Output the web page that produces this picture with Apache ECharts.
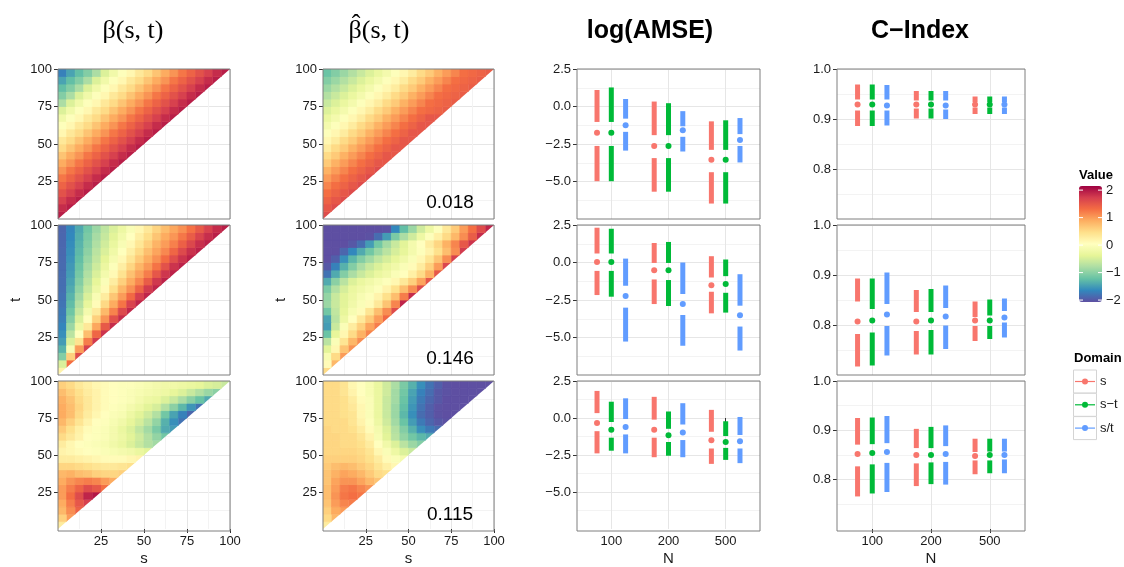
<!DOCTYPE html>
<html><head><meta charset="utf-8">
<script src="https://cdn.jsdelivr.net/npm/echarts@6/dist/echarts.min.js"></script>
<style>html,body{margin:0;padding:0;background:#fff}#c{width:1124px;height:567px}</style>
</head><body><div id="c"></div>
<script>
// ---------------- DATA ----------------
// heat grids: row i = t cell (bottom to top), value j = s cell (left to right), last value is the diagonal cell
const heatStep = 5;
const betaTrue_st = [
[1.95],
[1.85,1.95],
[1.7,1.85,1.95],
[1.55,1.7,1.85,1.95],
[1.4,1.55,1.7,1.85,1.95],
[1.25,1.4,1.55,1.7,1.85,1.95],
[1.05,1.25,1.4,1.55,1.7,1.85,1.95],
[0.9,1.05,1.25,1.4,1.55,1.7,1.85,1.95],
[0.7,0.9,1.05,1.25,1.4,1.55,1.7,1.85,1.95],
[0.5,0.7,0.9,1.05,1.25,1.4,1.55,1.7,1.85,1.95],
[0.35,0.5,0.7,0.9,1.05,1.25,1.4,1.55,1.7,1.85,1.95],
[0.15,0.35,0.5,0.7,0.9,1.05,1.25,1.4,1.55,1.7,1.85,1.95],
[0,0.15,0.35,0.5,0.7,0.9,1.05,1.25,1.4,1.55,1.7,1.85,1.95],
[-0.2,0,0.15,0.35,0.5,0.7,0.9,1.05,1.25,1.4,1.55,1.7,1.85,1.95],
[-0.45,-0.2,0,0.15,0.35,0.5,0.7,0.9,1.05,1.25,1.4,1.55,1.7,1.85,1.95],
[-0.8,-0.45,-0.2,0,0.15,0.35,0.5,0.7,0.9,1.05,1.25,1.4,1.55,1.7,1.85,1.95],
[-1.05,-0.8,-0.45,-0.2,0,0.15,0.35,0.5,0.7,0.9,1.05,1.25,1.4,1.55,1.7,1.85,1.95],
[-1.25,-1.05,-0.8,-0.45,-0.2,0,0.15,0.35,0.5,0.7,0.9,1.05,1.25,1.4,1.55,1.7,1.85,1.95],
[-1.45,-1.25,-1.05,-0.8,-0.45,-0.2,0,0.15,0.35,0.5,0.7,0.9,1.05,1.25,1.4,1.55,1.7,1.85,1.95],
[-1.7,-1.45,-1.25,-1.05,-0.8,-0.45,-0.2,0,0.15,0.35,0.5,0.7,0.9,1.05,1.25,1.4,1.55,1.7,1.85,1.95]
];
const betaHat_st = [
[1.6],
[1.5,1.6],
[1.4,1.5,1.6],
[1.3,1.4,1.5,1.6],
[1.15,1.3,1.4,1.5,1.6],
[1.0,1.15,1.3,1.4,1.5,1.6],
[0.85,1.0,1.15,1.3,1.4,1.5,1.6],
[0.65,0.85,1.0,1.15,1.3,1.4,1.5,1.5],
[0.5,0.65,0.85,1.0,1.15,1.3,1.4,1.5,1.5],
[0.3,0.5,0.65,0.85,1.0,1.15,1.3,1.4,1.5,1.5],
[0.15,0.3,0.5,0.65,0.85,1.0,1.15,1.3,1.4,1.5,1.5],
[0,0.15,0.3,0.5,0.65,0.85,1.0,1.15,1.3,1.4,1.5,1.5],
[-0.15,0,0.15,0.3,0.5,0.65,0.85,1.0,1.15,1.3,1.4,1.5,1.5],
[-0.3,-0.15,0,0.15,0.3,0.5,0.65,0.85,1.0,1.15,1.3,1.4,1.5,1.5],
[-0.45,-0.3,-0.15,0,0.15,0.3,0.5,0.65,0.85,1.0,1.15,1.3,1.35,1.4,1.45],
[-0.6,-0.45,-0.3,-0.15,0,0.15,0.3,0.5,0.65,0.85,1.0,1.15,1.3,1.35,1.4,1.45],
[-0.75,-0.6,-0.45,-0.3,-0.15,0,0.15,0.3,0.5,0.65,0.85,1.0,1.15,1.3,1.35,1.4,1.45],
[-0.9,-0.75,-0.6,-0.45,-0.3,-0.15,0,0.15,0.3,0.5,0.65,0.85,1.0,1.15,1.3,1.35,1.4,1.45],
[-1.05,-0.9,-0.75,-0.6,-0.45,-0.3,-0.15,0,0.15,0.3,0.5,0.65,0.85,1.0,1.15,1.3,1.35,1.4,1.45],
[-1.2,-1.05,-0.9,-0.75,-0.6,-0.45,-0.3,-0.15,0,0.15,0.3,0.5,0.65,0.85,1.0,1.15,1.3,1.35,1.4,1.45]
];
const betaTrue_sdt = [
[0.2],
[-0.47,1.3],
[-1.05,0.6,1.6],
[-1.33,-0.08,1.0,1.7],
[-1.5,-0.47,0.42,1.2,1.75],
[-1.6,-0.7,0.02,0.75,1.37,1.8],
[-1.67,-0.9,-0.26,0.35,0.93,1.48,1.85],
[-1.72,-1.05,-0.47,0.07,0.6,1.05,1.57,1.85],
[-1.75,-1.17,-0.62,-0.15,0.32,0.79,1.16,1.63,1.88],
[-1.79,-1.26,-0.75,-0.33,0.1,0.52,0.9,1.26,1.68,1.9],
[-1.81,-1.33,-0.86,-0.47,-0.08,0.3,0.68,1.0,1.34,1.72,1.9],
[-1.83,-1.4,-0.96,-0.58,-0.24,0.11,0.46,0.81,1.07,1.4,1.75,1.9],
[-1.84,-1.45,-1.05,-0.68,-0.36,-0.04,0.28,0.6,0.89,1.14,1.46,1.77,1.92],
[-1.85,-1.5,-1.13,-0.76,-0.47,-0.17,0.12,0.42,0.72,0.96,1.2,1.5,1.78,1.92],
[-1.86,-1.53,-1.19,-0.84,-0.56,-0.28,-0.01,0.27,0.55,0.82,1.02,1.27,1.55,1.8,1.92],
[-1.87,-1.57,-1.25,-0.92,-0.64,-0.38,-0.12,0.14,0.39,0.65,0.88,1.08,1.32,1.58,1.8,1.93],
[-1.88,-1.6,-1.29,-0.99,-0.7,-0.47,-0.22,0.02,0.26,0.5,0.74,0.94,1.13,1.37,1.62,1.82,1.93],
[-1.89,-1.62,-1.33,-1.05,-0.77,-0.54,-0.31,-0.08,0.14,0.37,0.6,0.83,1.0,1.18,1.42,1.64,1.83,1.93],
[-1.89,-1.65,-1.37,-1.1,-0.83,-0.61,-0.4,-0.18,0.04,0.26,0.47,0.69,0.9,1.04,1.24,1.45,1.67,1.84,1.94],
[-1.9,-1.67,-1.41,-1.15,-0.9,-0.67,-0.47,-0.26,-0.06,0.15,0.35,0.56,0.76,0.93,1.08,1.28,1.48,1.69,1.85,1.94]
];
const betaHat_sdt = [
[0.5],
[0.1,0.8],
[-0.1,0.5,1.0],
[-0.4,0.15,0.7,1.05],
[-0.7,-0.05,0.4,0.8,1.1],
[-1.2,-0.35,0.15,0.5,0.85,1.15],
[-1.5,-0.6,-0.05,0.3,0.6,0.95,1.2],
[-1.45,-0.7,-0.25,0.05,0.35,0.65,1.0,1.35],
[-1.15,-0.65,-0.35,-0.1,0.1,0.4,0.75,1.1,1.6],
[-0.9,-0.6,-0.4,-0.2,-0.05,0.1,0.35,0.7,1.15,1.9],
[-0.95,-0.6,-0.4,-0.25,-0.1,0.0,0.2,0.45,0.75,1.2,1.85],
[-1.1,-0.75,-0.5,-0.3,-0.2,-0.1,0.0,0.2,0.45,0.75,1.1,1.6],
[-1.4,-1.0,-0.7,-0.45,-0.3,-0.2,-0.1,0.0,0.15,0.35,0.6,0.95,1.5],
[-1.8,-1.4,-1.05,-0.8,-0.6,-0.45,-0.3,-0.2,-0.05,0.05,0.25,0.5,0.85,1.5],
[-2.0,-1.7,-1.35,-1.05,-0.8,-0.6,-0.45,-0.3,-0.2,-0.05,0.1,0.3,0.6,1.0,1.65],
[-2.1,-1.95,-1.6,-1.3,-1.05,-0.85,-0.65,-0.5,-0.35,-0.2,-0.05,0.15,0.4,0.7,1.1,1.7],
[-2.2,-2.1,-1.9,-1.65,-1.4,-1.15,-0.9,-0.7,-0.5,-0.35,-0.15,0.0,0.2,0.45,0.75,1.1,1.75],
[-2.3,-2.2,-2.1,-2.0,-1.85,-1.5,-1.15,-0.85,-0.6,-0.4,-0.15,0.05,0.3,0.55,0.85,1.15,1.5,1.8],
[-2.3,-2.3,-2.2,-2.2,-2.1,-2.05,-1.85,-1.5,-1.1,-0.8,-0.55,-0.25,0.0,0.25,0.5,0.8,1.1,1.45,1.85],
[-2.3,-2.3,-2.3,-2.25,-2.2,-2.15,-2.1,-2.05,-1.65,-1.25,-0.9,-0.55,-0.25,0.0,0.35,0.65,1.0,1.3,1.6,1.9]
];
const betaTrue_s = [
[0.3],
[0.6,1.0],
[0.8,1.1,1.4],
[0.9,1.2,1.5,1.7],
[1.0,1.3,1.6,1.9,2.0],
[1.0,1.2,1.4,1.6,1.5,1.3],
[0.9,1.05,1.15,1.2,1.15,1.0,0.9],
[0.8,0.85,0.75,0.7,0.6,0.55,0.55,0.6],
[0.55,0.55,0.5,0.45,0.4,0.35,0.35,0.4,0.45],
[0.3,0.3,0.25,0.2,0.15,0.1,0.1,0.1,0.15,0.2],
[0.2,0.15,0.1,0.05,0,-0.05,-0.1,-0.15,-0.2,-0.3,-0.4],
[0.3,0.15,0.05,0,-0.05,-0.1,-0.2,-0.3,-0.45,-0.6,-0.75,-0.85],
[0.5,0.35,0.2,0.05,0,-0.05,-0.15,-0.25,-0.4,-0.55,-0.75,-0.95,-1.15],
[0.65,0.45,0.25,0.1,0,-0.05,-0.15,-0.3,-0.45,-0.65,-0.85,-1.1,-1.4,-1.5],
[0.8,0.6,0.4,0.2,0.05,0,-0.1,-0.2,-0.35,-0.5,-0.7,-0.95,-1.35,-1.6,-1.8],
[0.9,0.75,0.5,0.3,0.15,0.05,-0.05,-0.1,-0.25,-0.4,-0.55,-0.75,-1.15,-1.45,-1.7,-1.9],
[0.9,0.75,0.55,0.35,0.2,0.1,0,-0.05,-0.15,-0.25,-0.4,-0.5,-0.75,-1.0,-1.3,-1.55,-1.8],
[0.85,0.7,0.5,0.35,0.2,0.1,0.05,0,-0.05,-0.15,-0.25,-0.3,-0.45,-0.6,-0.8,-1.0,-1.2,-1.4],
[0.75,0.6,0.45,0.3,0.2,0.1,0.05,0,-0.05,-0.1,-0.15,-0.2,-0.25,-0.35,-0.45,-0.6,-0.75,-0.9,-1.0],
[0.6,0.5,0.35,0.25,0.15,0.1,0.05,0,0,-0.05,-0.1,-0.15,-0.2,-0.2,-0.25,-0.3,-0.35,-0.45,-0.5,-0.6]
];
const betaHat_s = [
[0.3],
[0.5,0.8],
[0.6,0.9,1.0],
[0.7,1.0,1.15,1.2],
[0.75,1.05,1.25,1.3,1.25],
[0.75,1.0,1.2,1.25,1.15,1.05],
[0.7,0.95,1.05,1.05,0.95,0.8,0.7],
[0.7,0.85,0.95,0.9,0.8,0.65,0.5,0.45],
[0.65,0.75,0.8,0.75,0.65,0.55,0.4,0.25,0.15],
[0.6,0.6,0.6,0.6,0.55,0.45,0.3,0.1,-0.05,-0.15],
[0.55,0.55,0.55,0.55,0.5,0.4,0.15,-0.05,-0.25,-0.45,-0.6],
[0.55,0.55,0.5,0.5,0.45,0.3,0.05,-0.2,-0.45,-0.7,-0.9,-1.05],
[0.55,0.55,0.5,0.5,0.4,0.2,-0.1,-0.4,-0.7,-0.95,-1.15,-1.3,-1.4],
[0.55,0.5,0.5,0.45,0.3,0.1,-0.15,-0.45,-0.75,-1.05,-1.35,-1.6,-1.75,-1.85],
[0.5,0.5,0.5,0.4,0.2,0,-0.25,-0.55,-0.85,-1.2,-1.5,-1.75,-1.9,-2.0,-2.05],
[0.5,0.5,0.45,0.4,0.15,-0.05,-0.3,-0.6,-0.9,-1.3,-1.6,-1.85,-1.95,-2.05,-2.1,-2.1],
[0.5,0.5,0.45,0.35,0.15,-0.05,-0.3,-0.6,-0.9,-1.25,-1.55,-1.8,-1.95,-2.05,-2.1,-2.1,-2.1],
[0.5,0.5,0.45,0.3,0.1,-0.05,-0.3,-0.6,-0.85,-1.2,-1.5,-1.75,-1.9,-2.0,-2.1,-2.1,-2.1,-2.1],
[0.5,0.5,0.4,0.2,0.05,-0.1,-0.3,-0.55,-0.85,-1.15,-1.45,-1.7,-1.85,-2.0,-2.05,-2.1,-2.1,-2.1,-2.1],
[0.5,0.5,0.4,0.15,0.05,-0.1,-0.3,-0.55,-0.8,-1.1,-1.35,-1.6,-1.8,-1.95,-2.05,-2.1,-2.1,-2.1,-2.1,-2.1]
];
const estErrors = ['0.018', '0.146', '0.115'];

const sTicks = [25, 50, 75, 100];
const tTicks = [25, 50, 75, 100];
const Ns = ['100', '200', '500'];
const domains = ['s', 's\u2212t', 's/t'];
const amseTicks = [-5, -2.5, 0, 2.5];
const cindexTicks = [0.8, 0.9, 1.0];
const colorbarTicks = [2, 1, 0, -1, -2];

// Tufte boxplot summaries per N: [low, q1, median, q3, high]
// log(AMSE)
const amse_r1_s   = [[-4.98,-2.63,-1.75,-1.03,1.10],[-5.68,-3.44,-2.63,-1.91,0.33],[-6.47,-4.38,-3.55,-2.89,-0.99]];
const amse_r1_st  = [[-4.98,-2.63,-1.75,-1.03,1.27],[-5.68,-3.44,-2.63,-1.91,0.22],[-6.47,-4.38,-3.55,-2.89,-0.92]];
const amse_r1_sdt = [[-2.94,-1.69,-1.25,-0.81,0.50],[-3.00,-2.02,-1.58,-1.32,-0.31],[-3.73,-2.63,-2.24,-1.84,-0.77]];
const amse_r2_s   = [[-2.17,-0.56,0.04,0.60,2.32],[-2.77,-1.13,-0.51,-0.03,1.30],[-3.39,-1.95,-1.51,-1.00,0.42]];
const amse_r2_st  = [[-2.28,-0.56,0.04,0.60,2.25],[-2.90,-1.17,-0.51,-0.03,1.37],[-3.34,-2.02,-1.44,-0.91,0.20]];
const amse_r2_sdt = [[-5.27,-3.01,-2.24,-1.55,0.26],[-5.55,-3.50,-2.77,-2.10,0.00],[-5.87,-4.27,-3.52,-2.88,-0.78]];
const amse_r3_s   = [[-2.39,-0.89,-0.33,0.33,1.83],[-2.65,-1.33,-0.80,-0.11,1.43],[-3.10,-2.06,-1.51,-0.93,0.55]];
const amse_r3_st  = [[-2.21,-1.33,-0.80,-0.27,1.10],[-2.55,-1.62,-1.17,-0.73,0.44],[-2.83,-2.02,-1.62,-1.22,-0.22]];
const amse_r3_sdt = [[-2.39,-1.11,-0.60,-0.07,1.33],[-2.65,-1.49,-0.98,-0.44,1.00],[-3.05,-2.06,-1.57,-1.15,0.07]];
// C-Index
const cidx_r1_s   = [[0.886,0.917,0.929,0.939,0.969],[0.901,0.921,0.929,0.937,0.956],[0.910,0.923,0.929,0.934,0.945]];
const cidx_r1_st  = [[0.886,0.917,0.929,0.939,0.969],[0.901,0.921,0.929,0.937,0.956],[0.910,0.923,0.929,0.934,0.945]];
const cidx_r1_sdt = [[0.887,0.917,0.927,0.939,0.968],[0.900,0.919,0.927,0.937,0.956],[0.910,0.923,0.929,0.934,0.945]];
const cidx_r2_s   = [[0.717,0.782,0.807,0.847,0.893],[0.741,0.788,0.807,0.826,0.870],[0.768,0.798,0.809,0.816,0.847]];
const cidx_r2_st  = [[0.719,0.785,0.809,0.832,0.893],[0.741,0.790,0.809,0.826,0.872],[0.772,0.798,0.809,0.819,0.851]];
const cidx_r2_sdt = [[0.739,0.798,0.821,0.842,0.905],[0.752,0.799,0.817,0.834,0.879],[0.775,0.805,0.815,0.828,0.853]];
const cidx_r3_s   = [[0.766,0.827,0.852,0.871,0.925],[0.787,0.833,0.850,0.864,0.903],[0.811,0.839,0.848,0.856,0.883]];
const cidx_r3_st  = [[0.772,0.831,0.854,0.872,0.926],[0.791,0.835,0.850,0.864,0.907],[0.813,0.839,0.850,0.857,0.883]];
const cidx_r3_sdt = [[0.775,0.834,0.856,0.874,0.929],[0.790,0.836,0.852,0.868,0.910],[0.813,0.841,0.850,0.857,0.883]];

// ---------------- LAYOUT / STYLE ----------------
const layoutCols = [{left:58,width:172},{left:323,width:171},{left:577,width:183},{left:837,width:188}];
const layoutRows = [{top:69,height:150},{top:225,height:150},{top:381,height:150}];
const domainColors = ['#F8766D', '#00BA38', '#619CFF'];
const dodgeWidth = 0.75;
const spectral = ['#5E4FA2','#3288BD','#66C2A5','#ABDDA4','#E6F598','#FFFFBF','#FEE08B','#FDAE61','#F46D43','#D53E4F','#9E0142'];
const colorMin = -2.07, colorMax = 2.15;
const cbar = {left:1079, top:186, width:23, height:116};
const SANS = '"Liberation Sans", Arial, sans-serif';
const SERIF = '"Liberation Serif", "Times New Roman", serif';
const TXT = '#1a1a1a';

const heatPanels = [[betaTrue_st, betaHat_st],[betaTrue_sdt, betaHat_sdt],[betaTrue_s, betaHat_s]];
const amseRows = [[amse_r1_s, amse_r1_st, amse_r1_sdt],[amse_r2_s, amse_r2_st, amse_r2_sdt],[amse_r3_s, amse_r3_st, amse_r3_sdt]];
const cidxRows = [[cidx_r1_s, cidx_r1_st, cidx_r1_sdt],[cidx_r2_s, cidx_r2_st, cidx_r2_sdt],[cidx_r3_s, cidx_r3_st, cidx_r3_sdt]];

const fmtMinus = v => String(v).replace('-', '\u2212');

const grids = [], xAxes = [], yAxes = [], series = [];
const majorLine = {show:true, lineStyle:{color:'#E6E6E6', width:1}};
const minorLine = {show:true, lineStyle:{color:'#F3F3F3', width:1}};
const tickStyle = {lineStyle:{color:'#333', width:1}, length:4};
const lblStyle = {fontFamily:SANS, fontSize:13, color:TXT};

for (let r = 0; r < 3; r++) {
  for (let c = 0; c < 4; c++) {
    const g = grids.length;
    grids.push({left:layoutCols[c].left, top:layoutRows[r].top, width:layoutCols[c].width, height:layoutRows[r].height, containLabel:false});
    const bottom = r === 2;
    if (c < 2) {
      xAxes.push({type:'value', gridIndex:g, min:0, max:100, interval:25,
        name: bottom ? 's' : '', nameLocation:'middle', nameGap:22, nameTextStyle:{fontFamily:SANS, fontSize:15, color:TXT},
        axisLine:{show:false}, axisTick:Object.assign({show:bottom, customValues:sTicks}, tickStyle),
        axisLabel:Object.assign({show:bottom, customValues:sTicks, margin:6}, lblStyle),
        splitLine:majorLine, minorTick:{show:false, splitNumber:2}, minorSplitLine:minorLine});
      yAxes.push({type:'value', gridIndex:g, min:0, max:100, interval:25,
        name: r === 1 ? 't' : '', nameLocation:'middle', nameGap:35, nameRotate:90, nameTextStyle:{fontFamily:SANS, fontSize:15, color:TXT},
        axisLine:{show:false}, axisTick:Object.assign({show:true, customValues:tTicks}, tickStyle),
        axisLabel:Object.assign({show:true, customValues:tTicks, margin:6}, lblStyle),
        splitLine:majorLine, minorTick:{show:false, splitNumber:2}, minorSplitLine:minorLine});
    } else {
      const isAmse = c === 2;
      xAxes.push({type:'value', gridIndex:g, min:0.4, max:3.6,
        name: bottom ? 'N' : '', nameLocation:'middle', nameGap:22, nameTextStyle:{fontFamily:SANS, fontSize:15, color:TXT},
        axisLine:{show:false}, axisTick:Object.assign({show:bottom, customValues:[1,2,3]}, tickStyle),
        axisLabel:Object.assign({show:bottom, customValues:[1,2,3], margin:6, formatter:v => Ns[Math.round(v)-1]}, lblStyle),
        splitLine:majorLine});
      yAxes.push({type:'value', gridIndex:g,
        min: isAmse ? -7.5 : 0.7, max: isAmse ? 2.5 : 1.0, interval: isAmse ? 2.5 : 0.1,
        axisLine:{show:false}, axisTick:Object.assign({show:true, customValues: isAmse ? amseTicks : cindexTicks}, tickStyle),
        axisLabel:Object.assign({show:true, customValues: isAmse ? amseTicks : cindexTicks, margin:6,
          formatter:v => fmtMinus(Number(v).toFixed(1))}, lblStyle),
        splitLine:majorLine, minorTick:{show:false, splitNumber:2}, minorSplitLine:minorLine});
    }
  }
}

function heatData(rows) {
  const out = [];
  rows.forEach((row, i) => row.forEach((v, j) => {
    out.push([heatStep*j + heatStep/2, heatStep*i + heatStep/2, Math.max(colorMin, Math.min(colorMax, v)), j === i ? 1 : 0]);
  }));
  return out;
}
function renderCell(params, api) {
  const s = api.value(0), t = api.value(1), diag = api.value(3), h = heatStep/2;
  const p00 = api.coord([s-h, t-h]), p01 = api.coord([s-h, t+h]), p11 = api.coord([s+h, t+h]), p10 = api.coord([s+h, t-h]);
  const color = api.visual('color');
  const pts = diag ? [p00, p01, p11] : [p00, p01, p11, p10];
  return {type:'polygon', shape:{points:pts}, style:{fill:color, stroke:diag ? null : color, lineWidth:diag ? 0 : 0.8}};
}
const heatSeriesIdx = [];
for (let r = 0; r < 3; r++) for (let c = 0; c < 2; c++) {
  heatSeriesIdx.push(series.length);
  series.push({type:'custom', xAxisIndex:r*4+c, yAxisIndex:r*4+c, renderItem:renderCell, clip:true,
    encode:{x:0, y:1}, data:heatData(heatPanels[r][c]), silent:true, z:2});
}

function renderTufte(params, api) {
  const x = api.value(0);
  const pLow = api.coord([x, api.value(1)]), pQ1 = api.coord([x, api.value(2)]), pMed = api.coord([x, api.value(3)]);
  const pQ3 = api.coord([x, api.value(4)]), pHigh = api.coord([x, api.value(5)]);
  const w = 5, color = api.visual('color');
  return {type:'group', children:[
    {type:'rect', shape:{x:pLow[0]-w/2, y:pQ1[1], width:w, height:pLow[1]-pQ1[1]}, style:{fill:color}},
    {type:'rect', shape:{x:pHigh[0]-w/2, y:pHigh[1], width:w, height:pQ3[1]-pHigh[1]}, style:{fill:color}},
    {type:'circle', shape:{cx:pMed[0], cy:pMed[1], r:3}, style:{fill:color}}
  ]};
}
function tufteData(arr, d) {
  const off = (d - (domains.length-1)/2) * dodgeWidth / domains.length;
  return arr.map((q, k) => [k + 1 + off].concat(q));
}
for (let r = 0; r < 3; r++) {
  [amseRows[r], cidxRows[r]].forEach((rowSets, m) => {
    const g = r*4 + 2 + m;
    rowSets.forEach((arr, d) => {
      series.push({type:'custom', name:domains[d], xAxisIndex:g, yAxisIndex:g, renderItem:renderTufte, clip:true,
        encode:{x:0, y:[1,2,3,4,5]}, itemStyle:{color:domainColors[d]}, data:tufteData(arr, d), silent:true, z:3});
    });
  });
}

// ---------------- GRAPHICS (titles, borders, legends) ----------------
const graphics = [];
const titles = [
  {text:'\u03B2(s, t)', x:133, font:SERIF, weight:'normal', size:26},
  {text:'\u03B2(s, t)', x:379, font:SERIF, weight:'normal', size:26},
  {text:'log(AMSE)', x:650, font:SANS, weight:'bold', size:25},
  {text:'C\u2212Index', x:920, font:SANS, weight:'bold', size:25}
];
titles.forEach(t => graphics.push({type:'text', x:t.x, y:31, z:50,
  style:{text:t.text, fill:'#000', font:`${t.weight} ${t.size}px ${t.font}`, textAlign:'center', textVerticalAlign:'middle'}}));
graphics.push({type:'text', x:356, y:25, z:50, style:{text:'\u02C6', fill:'#000', font:`26px ${SERIF}`, textAlign:'center', textVerticalAlign:'middle'}});

for (let r = 0; r < 3; r++) for (let c = 0; c < 4; c++) {
  graphics.push({type:'rect', z:40, silent:true,
    shape:{x:layoutCols[c].left, y:layoutRows[r].top, width:layoutCols[c].width, height:layoutRows[r].height},
    style:{fill:null, stroke:'#7F7F7F', lineWidth:1}});
}
estErrors.forEach((e, r) => graphics.push({type:'text', z:45,
  x:layoutCols[1].left + layoutCols[1].width - 44, y:layoutRows[r].top + layoutRows[r].height - 16,
  style:{text:e, fill:'#000', font:`19px ${SANS}`, textAlign:'center', textVerticalAlign:'middle'}}));

// colorbar labels
graphics.push({type:'text', x:cbar.left, y:175, z:50, style:{text:'Value', fill:'#000', font:`bold 13px ${SANS}`, textAlign:'left', textVerticalAlign:'middle'}});
colorbarTicks.forEach(v => {
  const y = cbar.top + (colorMax - v) / (colorMax - colorMin) * cbar.height;
  graphics.push({type:'line', z:50, shape:{x1:cbar.left, y1:y, x2:cbar.left+4, y2:y}, style:{stroke:'#fff', lineWidth:1}});
  graphics.push({type:'line', z:50, shape:{x1:cbar.left+cbar.width-4, y1:y, x2:cbar.left+cbar.width, y2:y}, style:{stroke:'#fff', lineWidth:1}});
  graphics.push({type:'text', z:50, x:cbar.left+cbar.width+4, y:y, style:{text:fmtMinus(v), fill:TXT, font:`13px ${SANS}`, textAlign:'left', textVerticalAlign:'middle'}});
});
// Domain legend
graphics.push({type:'text', x:1074, y:358, z:50, style:{text:'Domain', fill:'#000', font:`bold 13px ${SANS}`, textAlign:'left', textVerticalAlign:'middle'}});
domains.forEach((d, k) => {
  const y0 = 370 + k*23.3, cy = y0 + 11.5;
  graphics.push({type:'rect', z:50, shape:{x:1073.5, y:y0, width:23, height:23}, style:{fill:'#fff', stroke:'#D4D4D4', lineWidth:1}});
  graphics.push({type:'line', z:51, shape:{x1:1075, y1:cy, x2:1095, y2:cy}, style:{stroke:domainColors[k], lineWidth:1.2}});
  graphics.push({type:'circle', z:52, shape:{cx:1085, cy:cy, r:3}, style:{fill:domainColors[k]}});
  graphics.push({type:'text', z:50, x:1100, y:cy, style:{text:d, fill:TXT, font:`13px ${SANS}`, textAlign:'left', textVerticalAlign:'middle'}});
});

const chart = echarts.init(document.getElementById('c'), null, {renderer:'canvas'});
chart.setOption({
  animation:false,
  backgroundColor:'#fff',
  grid:grids, xAxis:xAxes, yAxis:yAxes, series:series,
  visualMap:{type:'continuous', min:colorMin, max:colorMax, dimension:2, seriesIndex:heatSeriesIdx,
    inRange:{color:spectral}, calculable:false, show:true, orient:'vertical',
    left:cbar.left, top:cbar.top, itemWidth:cbar.width, itemHeight:cbar.height, padding:0, text:null, hoverLink:false},
  graphic:graphics
});
</script></body></html>
